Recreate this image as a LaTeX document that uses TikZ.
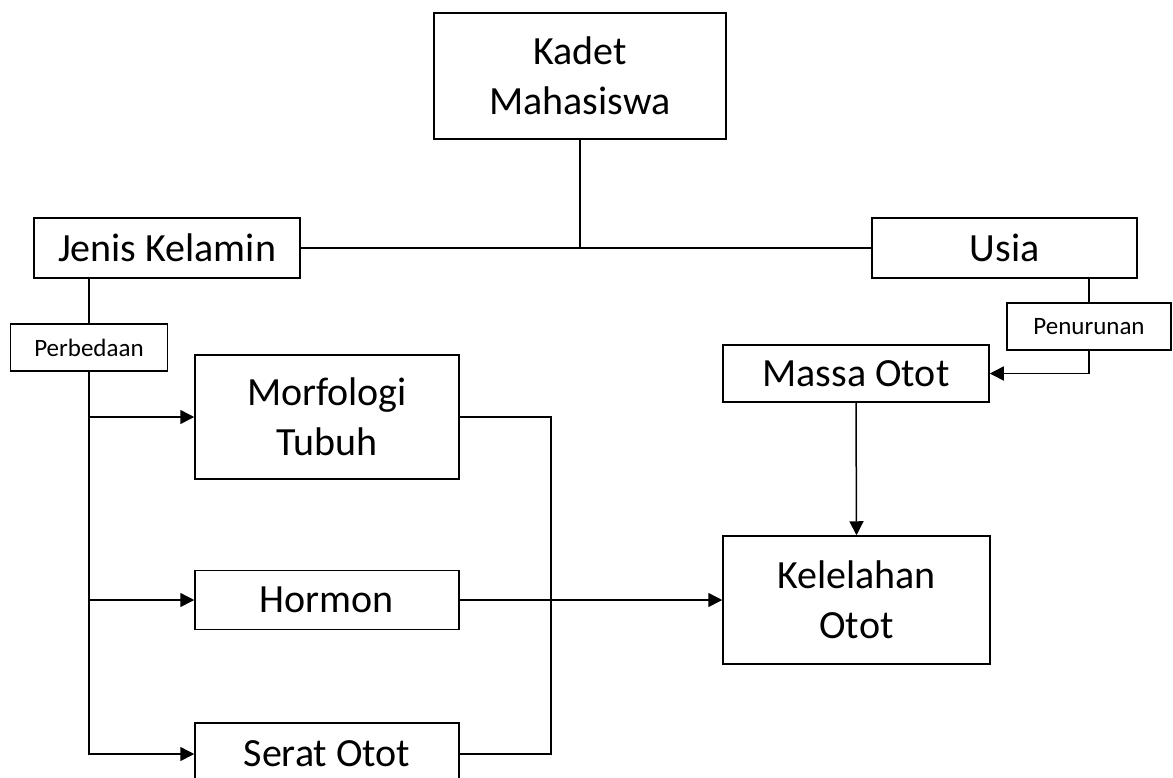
\documentclass[tikz,border=0pt]{standalone}
\usepackage{fontspec}
\setmainfont{Carlito}
\usetikzlibrary{arrows.meta}

\tikzset{
    kotak/.style={draw, line width=1.5pt, inner sep=0pt, align=center,
        font=\fontsize{40}{50}\selectfont},
    kecil/.style={draw, line width=1.5pt, inner sep=0pt,
        font=\fontsize{25}{30}\selectfont},
    garis/.style={line width=1.5pt},
    panah/.style={line width=1.5pt, -{Triangle[length=14pt,width=14pt]}}
}

\begin{document}
\begin{tikzpicture}[x=1pt, y=-1pt]
        \useasboundingbox (0,0) rectangle (1173,777);
        % boxes
        \node[kotak, minimum width=292pt, minimum height=126pt] (kadet) at (580,76) {Kadet\\Mahasiswa};
        \node[kotak, minimum width=266pt, minimum height=60pt] (jenis) at (167,248) {Jenis Kelamin};
        \node[kotak, minimum width=265pt, minimum height=60pt] (usia) at (1004.5,248) {Usia};
        \node[kecil, minimum width=157pt, minimum height=47pt] (beda) at (89,347.5) {Perbedaan};
        \node[kecil, minimum width=164pt, minimum height=47pt] (turun) at (1089,326.5) {Penurunan};
        \node[kotak, minimum width=266pt, minimum height=57pt] (massa) at (856,373.5) {Massa Otot};
        \node[kotak, minimum width=264pt, minimum height=124pt] (morf) at (327,417) {Morfologi\\Tubuh};
        \node[kotak, minimum width=264pt, minimum height=59pt] (hormon) at (327,600) {Hormon};
        \node[kotak, minimum width=264pt, minimum height=62pt] (serat) at (327,754) {Serat Otot};
        \node[kotak, minimum width=267pt, minimum height=128pt] (lelah) at (856.5,600) {Kelelahan\\Otot};
        \coordinate (sambung) at (551,417);
        % lines
        \draw[garis] (jenis.east) -- (usia.west);
        \draw[garis] (kadet.south) -- (kadet.south |- jenis.east);
        \draw[garis] (beda.north |- jenis.south) -- (beda.north);
        \draw[panah] (beda.south) |- (serat.west);
        \draw[panah] (beda.south |- morf.west) -- (morf.west);
        \draw[panah] (beda.south |- hormon.west) -- (hormon.west);
        \draw[garis] (morf.east) -- (sambung) |- (serat.east);
        \draw[panah] (hormon.east) -- (lelah.west);
        \draw[garis] (turun.north |- usia.south) -- (turun.north);
        \draw[panah] (turun.south) |- (massa.east);
        \draw[panah] (massa.south) -- (lelah.north);
\end{tikzpicture}
\end{document}
